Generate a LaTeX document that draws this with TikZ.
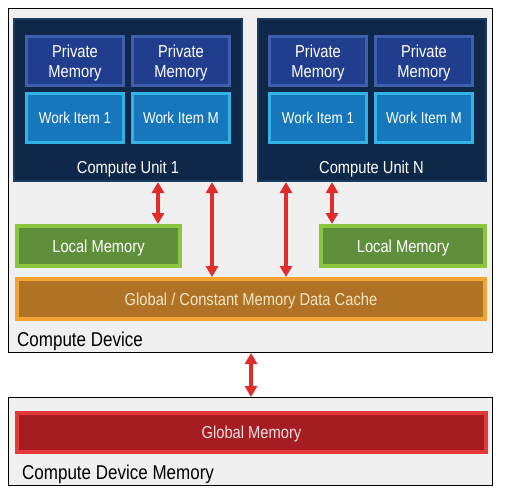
\documentclass[tikz,border=0pt]{standalone}
\usepackage{fontspec}
\setmainfont{Liberation Sans}[FakeStretch=0.85]
\usepackage{xcolor}
\usetikzlibrary{arrows.meta}
\definecolor{devgray}{HTML}{F0F0F0}
\definecolor{unitblue}{HTML}{0F2748}
\definecolor{unitedge}{HTML}{1A3A62}
\definecolor{pmfill}{HTML}{213E8E}
\definecolor{pmedge}{HTML}{3F5FAA}
\definecolor{wifill}{HTML}{1677BD}
\definecolor{wiedge}{HTML}{33B2E6}
\definecolor{lmfill}{HTML}{5F8F3A}
\definecolor{lmedge}{HTML}{8CC63E}
\definecolor{cachefill}{HTML}{B07326}
\definecolor{cacheedge}{HTML}{F3A332}
\definecolor{cachetext}{HTML}{F4E5C5}
\definecolor{gmfill}{HTML}{A51C23}
\definecolor{gmedge}{HTML}{E2393A}
\definecolor{gmtext}{HTML}{F4E0E0}
\definecolor{arrred}{HTML}{E22B2B}
\begin{document}
\begin{tikzpicture}[x=1pt,y=-1pt,
    txt/.style={text=white,font=\fontsize{17.3}{20.5}\selectfont,align=center,inner sep=0pt,text depth=0pt},
    frame/.style={draw=black,line width=1pt,fill=devgray,inner sep=0pt},
    unit/.style={fill=unitblue,draw=unitedge,line width=2pt,minimum width=228pt,minimum height=162pt,inner sep=0pt},
    pmem/.style={txt,fill=pmfill,draw=pmedge,line width=3pt,minimum width=97pt,minimum height=49pt},
    witem/.style={txt,font=\fontsize{15.8}{18}\selectfont,fill=wifill,draw=wiedge,line width=3pt,minimum width=97pt,minimum height=49pt},
    lmem/.style={txt,fill=lmfill,draw=lmedge,line width=4pt,minimum height=40pt},
    dbl/.style={draw=arrred,line width=3.5pt,{Triangle[width=12pt,length=11pt]}-{Triangle[width=12pt,length=11pt]}}
    ]
    \useasboundingbox (0,0) rectangle (505,496);
    % Device frames
    \node[frame,minimum width=484pt,minimum height=344pt] (dev) at (250.5,180.5) {};
    \node[frame,minimum width=484pt,minimum height=88pt] (devmem) at (250.5,441.5) {};
    \node[anchor=west,inner sep=0pt,text depth=0pt,font=\fontsize{20}{22}\selectfont] (devlbl) at (17,339) {Compute Device};
    \node[anchor=west,inner sep=0pt,text depth=0pt,font=\fontsize{20}{22}\selectfont] (devmemlbl) at (22,472) {Compute Device Memory};
    % Compute units
    \node[unit] (cu1) at (128,100) {};
    \node[unit] (cuN) at (371.5,100) {};
    \node[txt] (cu1lbl) at (128,167) {Compute Unit 1};
    \node[txt] (cuNlbl) at (371.5,167) {Compute Unit N};
    \node[pmem] (pm11) at (75,61) {Private\\Memory};
    \node[pmem] (pm1M) at (181,61) {Private\\Memory};
    \node[witem] (wi11) at (75,118) {Work Item 1};
    \node[witem] (wi1M) at (181,118) {Work Item M};
    \node[pmem] (pmN1) at (318,61) {Private\\Memory};
    \node[pmem] (pmNM) at (424,61) {Private\\Memory};
    \node[witem] (wiN1) at (318,118) {Work Item 1};
    \node[witem] (wiNM) at (424,118) {Work Item M};
    % Local and global memories
    \node[lmem,minimum width=163pt] (lm1) at (98.5,246) {Local Memory};
    \node[lmem,minimum width=164pt] (lmN) at (403,246) {Local Memory};
    \node[txt,text=cachetext,fill=cachefill,draw=cacheedge,line width=4pt,minimum width=468pt,minimum height=40pt] (cache) at (251,299) {Global / Constant Memory Data Cache};
    \node[txt,text=gmtext,fill=gmfill,draw=gmedge,line width=4pt,minimum width=469pt,minimum height=39pt] (gmem) at (251.5,432.5) {Global Memory};
    % Arrows
    \coordinate (x1) at (158,0);
    \coordinate (x2) at (212,0);
    \coordinate (x3) at (286,0);
    \coordinate (x4) at (332,0);
    \coordinate (x5) at (251,0);
    \draw[dbl] (cu1.south -| x1) -- (lm1.north -| x1);
    \draw[dbl] (cu1.south -| x2) -- (cache.north -| x2);
    \draw[dbl] (cuN.south -| x3) -- (cache.north -| x3);
    \draw[dbl] (cuN.south -| x4) -- (lmN.north -| x4);
    \draw[dbl] (dev.south -| x5) -- (devmem.north -| x5);
\end{tikzpicture}
\end{document}
